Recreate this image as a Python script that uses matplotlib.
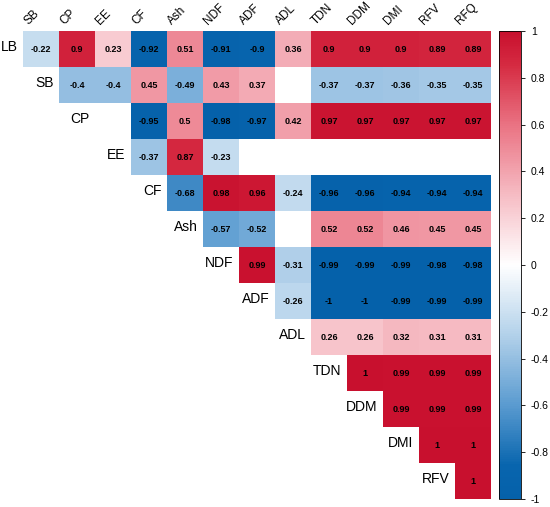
import numpy as np
import matplotlib
matplotlib.use("Agg")
import matplotlib.pyplot as plt
from matplotlib.colors import LinearSegmentedColormap, Normalize
from matplotlib.cm import ScalarMappable

plt.rcParams['font.family'] = ['Liberation Sans', 'DejaVu Sans']

labels = ["LB", "SB", "CP", "EE", "CF", "Ash", "NDF", "ADF", "ADL",
          "TDN", "DDM", "DMI", "RFV", "RFQ"]

# upper triangle, row i holds correlations with labels[i+1:]; None = not significant
upper = [
    [-0.22, 0.9, 0.23, -0.92, 0.51, -0.91, -0.9, 0.36, 0.9, 0.9, 0.9, 0.89, 0.89],
    [-0.4, -0.4, 0.45, -0.49, 0.43, 0.37, None, -0.37, -0.37, -0.36, -0.35, -0.35],
    [None, -0.95, 0.5, -0.98, -0.97, 0.42, 0.97, 0.97, 0.97, 0.97, 0.97],
    [-0.37, 0.87, -0.23, None, None, None, None, None, None, None],
    [-0.68, 0.98, 0.96, -0.24, -0.96, -0.96, -0.94, -0.94, -0.94],
    [-0.57, -0.52, None, 0.52, 0.52, 0.46, 0.45, 0.45],
    [0.99, -0.31, -0.99, -0.99, -0.99, -0.98, -0.98],
    [-0.26, -1, -1, -0.99, -0.99, -0.99],
    [0.26, 0.26, 0.32, 0.31, 0.31],
    [1, 0.99, 0.99, 0.99],
    [0.99, 0.99, 0.99],
    [1, 1],
    [1],
]

cbar_ticks = [-1, -0.8, -0.6, -0.4, -0.2, 0, 0.2, 0.4, 0.6, 0.8, 1]

cmap = LinearSegmentedColormap.from_list("corr", [
    (0.0, "#0561aa"), (0.07, "#0865ae"), (0.2, "#5a9bd0"), (0.35, "#b3d1ea"),
    (0.5, "#ffffff"),
    (0.65, "#f6bcc4"), (0.8, "#ea7383"), (0.93, "#d52a41"), (1.0, "#c8102e")])
norm = Normalize(-1, 1)

W, H = 550, 507
fig = plt.figure(figsize=(W / 100, H / 100), dpi=100)
n = len(labels) - 1
ax = fig.add_axes([23 / W, 8 / H, 468 / W, 468 / H])
ax.set_xlim(0, n)
ax.set_ylim(n, 0)
ax.axis('off')

for i, row in enumerate(upper):
    for k, v in enumerate(row):
        j = i + k
        if v is None:
            continue
        ax.add_patch(plt.Rectangle((j, i), 1, 1, facecolor=cmap(norm(v)),
                                   edgecolor='none'))
        ax.text(j + 0.5, i + 0.5, f"{v:g}", ha='center', va='center',
                fontsize=6.5, fontweight='bold', color='black')
    # row label, left of first cell
    ax.text(i - 0.15, i + 0.45, labels[i], ha='right', va='center',
            fontsize=10, color='black', clip_on=False)

for j in range(n):
    ax.text(j + 0.2, -0.1, labels[j + 1], ha='left', va='bottom',
            rotation=45, rotation_mode='anchor', fontsize=8.5,
            color='black', clip_on=False)

cax = fig.add_axes([499 / W, 8 / H, 22 / W, 468 / H])
cb = fig.colorbar(ScalarMappable(norm=norm, cmap=cmap), cax=cax)
cb.set_ticks(cbar_ticks)
cb.set_ticklabels([f"{t:g}" for t in cbar_ticks])
cb.ax.tick_params(labelsize=7.5, length=3, width=0.6, pad=4)
cb.outline.set_linewidth(0.6)

fig.savefig("out.png", dpi=100)
